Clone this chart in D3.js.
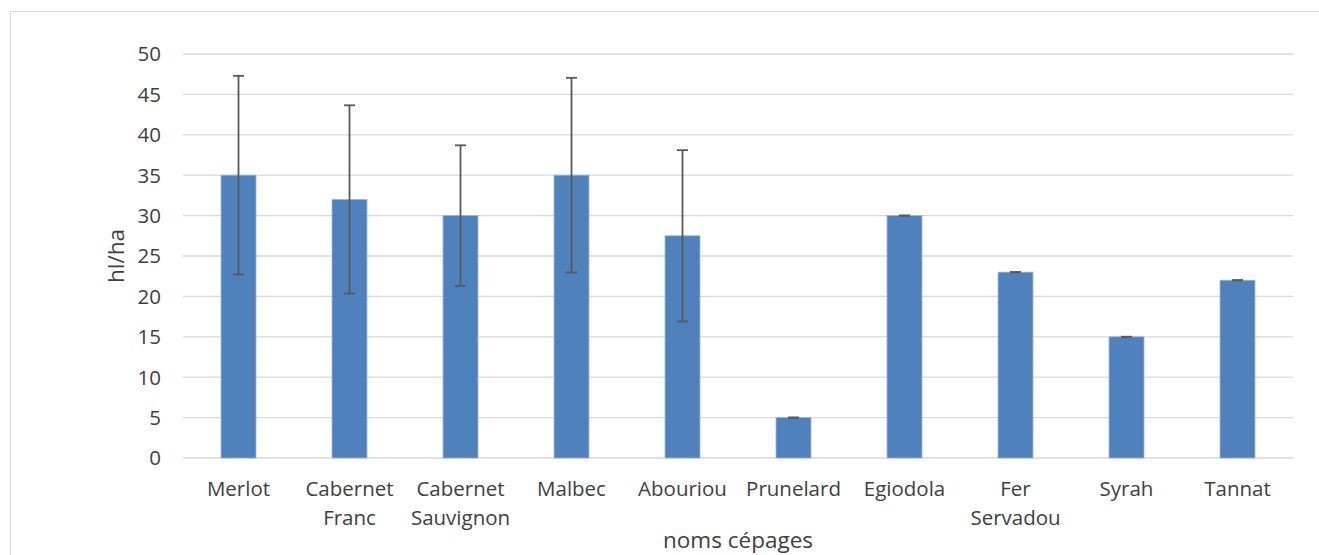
<!DOCTYPE html>
<html>
<head>
<meta charset="utf-8">
<script src="https://cdn.jsdelivr.net/npm/d3@7"></script>
<style>
  body { margin: 0; background: #fff; }
  svg { display: block; }
  text { font-family: "Open Sans", "Noto Sans", sans-serif; fill: #404040; }
</style>
</head>
<body>
<svg width="1319" height="555"></svg>
<script>
// cépages and their yields (hl/ha) with standard deviation
const cepages = ['Merlot', 'Cabernet Franc', 'Cabernet Sauvignon', 'Malbec', 'Abouriou',
                 'Prunelard', 'Egiodola', 'Fer Servadou', 'Syrah', 'Tannat'];
const rendements = [35, 32, 30, 35, 27.5, 5, 30, 23, 15, 22];
const ecarts = [12.3, 11.65, 8.7, 12.05, 10.6, 0, 0, 0, 0, 0];
const yTicks = [0, 5, 10, 15, 20, 25, 30, 35, 40, 45, 50];

const svg = d3.select('svg');
const margin = { left: 183, right: 26, top: 54, bottom: 97 };
const width = 1319 - margin.left - margin.right;
const height = 555 - margin.top - margin.bottom;

// outer chart frame
svg.append('rect')
  .attr('x', 10.5).attr('y', 11.5)
  .attr('width', 1319).attr('height', 600)
  .attr('fill', 'none').attr('stroke', '#d9d9d9');

const g = svg.append('g').attr('transform', `translate(${margin.left},${margin.top})`);

const x = d3.scaleBand().domain(cepages).range([0, width]);
const y = d3.scaleLinear().domain([0, 50]).range([height, 0]);

// gridlines
g.selectAll('.grid')
  .data(yTicks)
  .enter().append('line')
  .attr('x1', 0).attr('x2', width)
  .attr('y1', d => y(d)).attr('y2', d => y(d))
  .attr('stroke', '#d9d9d9').attr('stroke-width', 1.3);

// y tick labels
g.selectAll('.ytick')
  .data(yTicks)
  .enter().append('text')
  .attr('x', -22).attr('y', d => y(d))
  .attr('dy', '0.36em')
  .attr('text-anchor', 'end')
  .style('font-size', '20.5px')
  .text(d => d);

const barW = x.bandwidth() * 0.315;
const data = cepages.map((c, i) => ({ name: c, v: rendements[i], e: ecarts[i] }));

g.selectAll('.bar')
  .data(data)
  .enter().append('rect')
  .attr('x', d => x(d.name) + (x.bandwidth() - barW) / 2)
  .attr('y', d => y(d.v))
  .attr('width', barW)
  .attr('height', d => height - y(d.v))
  .attr('fill', '#4f81bd')
  .attr('stroke', '#9ab5da').attr('stroke-width', 0.8);

// error bars
const errs = g.selectAll('.err').data(data).enter().append('g')
  .attr('transform', d => `translate(${x(d.name) + x.bandwidth() / 2},0)`);
errs.append('line')
  .attr('x1', 0).attr('x2', 0)
  .attr('y1', d => y(d.v + d.e)).attr('y2', d => y(d.v - d.e))
  .attr('stroke', '#595959').attr('stroke-width', 1.8);
errs.append('line')
  .attr('x1', -5.5).attr('x2', 5.5)
  .attr('y1', d => y(d.v + d.e)).attr('y2', d => y(d.v + d.e))
  .attr('stroke', '#595959').attr('stroke-width', 1.8);
errs.append('line')
  .attr('x1', -5.5).attr('x2', 5.5)
  .attr('y1', d => y(d.v - d.e)).attr('y2', d => y(d.v - d.e))
  .attr('stroke', '#595959').attr('stroke-width', 1.8);

// category labels (wrapped on spaces)
const lbl = g.selectAll('.xlab').data(cepages).enter().append('text')
  .attr('text-anchor', 'middle')
  .attr('transform', d => `translate(${x(d) + x.bandwidth() / 2},${height + 38})`)
  .style('font-size', '20.5px');
lbl.each(function (d) {
  const words = d.split(' ');
  words.forEach((w, i) => {
    d3.select(this).append('tspan')
      .attr('x', 0).attr('y', i * 29)
      .text(w);
  });
});

// axis titles
svg.append('text')
  .attr('x', margin.left + width / 2).attr('y', 548)
  .attr('text-anchor', 'middle')
  .style('font-size', '22.5px')
  .text('noms cépages');

svg.append('text')
  .attr('transform', `translate(124,${margin.top + height / 2}) rotate(-90)`)
  .attr('text-anchor', 'middle')
  .style('font-size', '22.5px')
  .text('hl/ha');
</script>
</body>
</html>
